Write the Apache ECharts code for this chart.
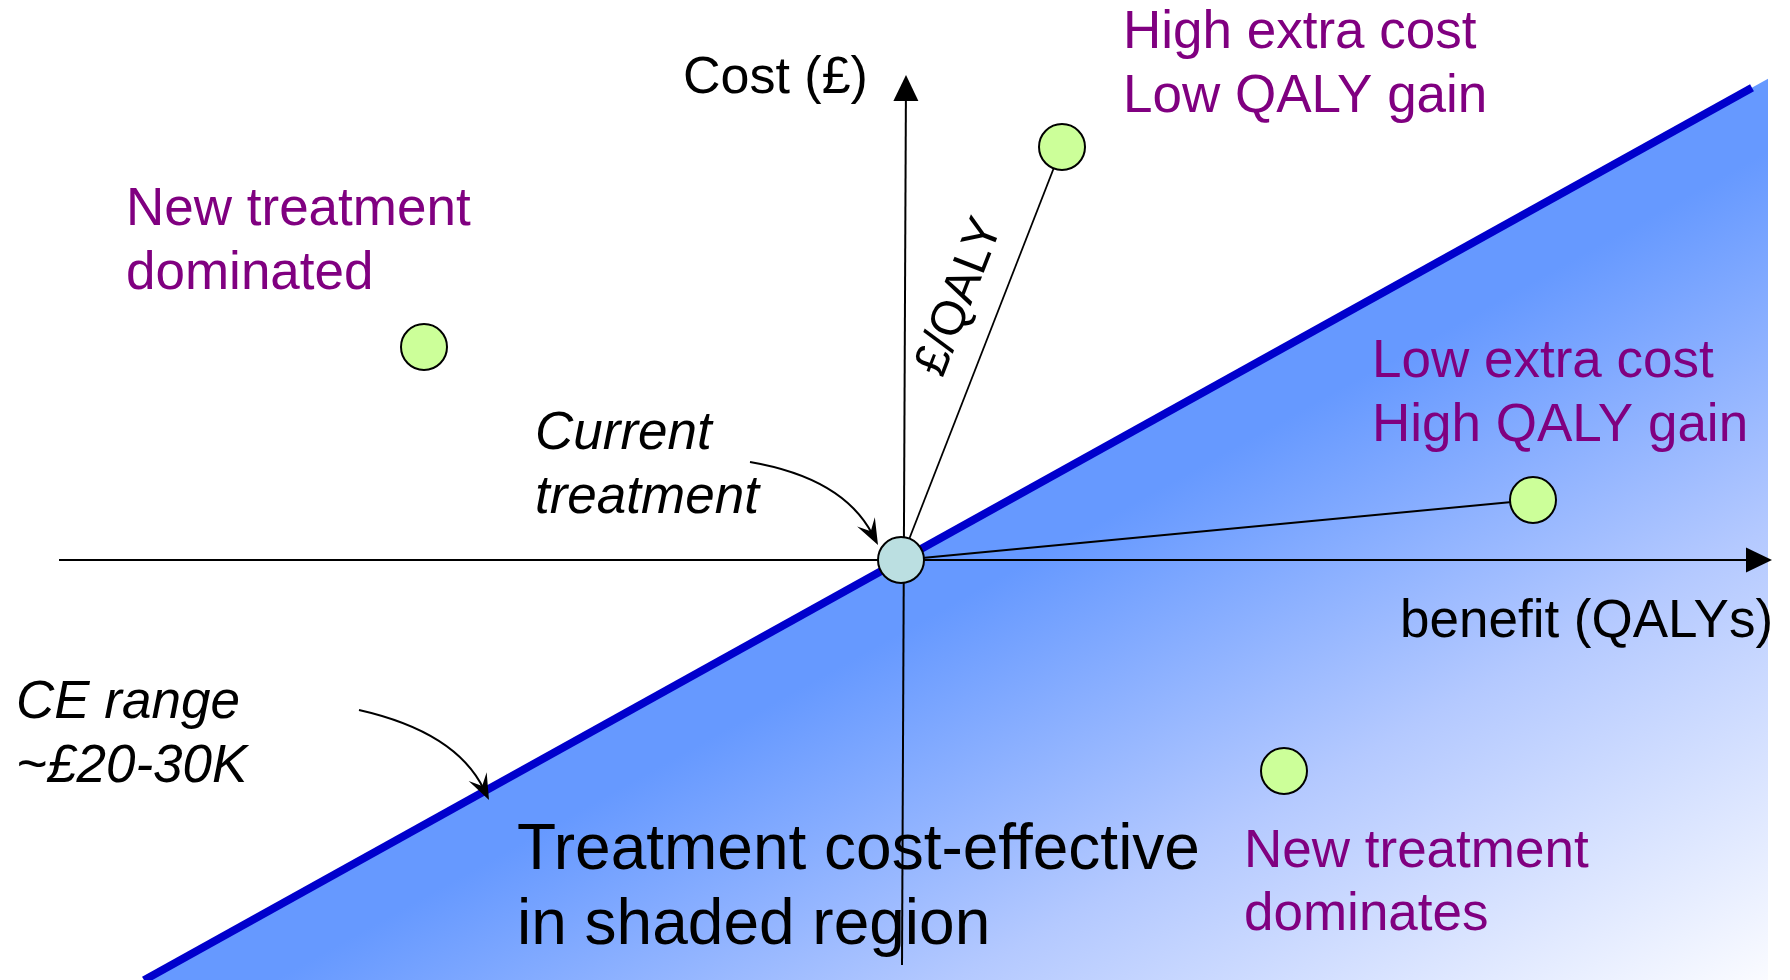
<!DOCTYPE html>
<html>
<head>
<meta charset="utf-8">
<title>Cost-effectiveness plane</title>
<script src="https://cdn.jsdelivr.net/npm/echarts@6/dist/echarts.min.js"></script>
<style>
  html, body { margin: 0; padding: 0; background: #ffffff; }
  #chart { width: 1790px; height: 980px; }
</style>
</head>
<body>
<div id="chart"></div>
<script>
// Incremental benefit (QALYs) and incremental cost (£) of each new treatment,
// measured relative to the current treatment at the origin.
const benefitQaly = [1.61, -4.77, 6.32, 3.83];
const extraCost   = [4.13,  2.13, 0.60, -2.11];
const currentTreatment = [0, 0];

// Willingness-to-pay threshold (cost per QALY) drawn as a line through the origin.
const ceThresholdSlope = 0.555;
const thresholdBenefitEnds = [-7.57, 8.51];
const shadedBenefitMax = 8.67;

// New treatments joined to the current one by a £/QALY ray.
const rayTargets = [0, 2];

// Axis extents (benefit, cost) of the two plane axes.
const benefitAxisEnds = [[-8.42, 0], [8.71, 0]];
const costAxisEnds    = [[0.01, -4.05], [0.05, 4.85]];

// Plot window.
const X_MIN = -9.01, X_MAX = 8.89;
const Y_MIN = -4.20, Y_MAX = 5.60;

// Curved pointer arrows: start, control, end (benefit, cost).
const pointerArrows = [
  [-1.51, 0.98, -0.58, 0.82, -0.23, 0.15],
  [-5.42, -1.50, -4.45, -1.72, -4.12, -2.40]
];

const FONT = '"Liberation Sans", Arial, Helvetica, sans-serif';
const PURPLE = '#800080';

const chart = echarts.init(document.getElementById('chart'), null, { renderer: 'canvas' });

const shadedVertices = [
  [Y_MIN / ceThresholdSlope, Y_MIN],
  [shadedBenefitMax, shadedBenefitMax * ceThresholdSlope],
  [shadedBenefitMax, Y_MIN]
];

function arrowHead(tip, from, len, half, notch) {
  const dx = tip[0] - from[0], dy = tip[1] - from[1];
  const d = Math.hypot(dx, dy) || 1;
  const ux = dx / d, uy = dy / d;
  const px = -uy, py = ux;
  const bx = tip[0] - ux * len, by = tip[1] - uy * len;
  const pts = [
    tip,
    [bx + px * half, by + py * half]
  ];
  if (notch) pts.push([tip[0] - ux * len * notch, tip[1] - uy * len * notch]);
  pts.push([bx - px * half, by - py * half]);
  return pts;
}

function txt(x, y, text, size, color, italic) {
  return {
    type: 'text', x: x, y: y, z: 100,
    style: {
      text: text, x: 0, y: 0,
      font: (italic ? 'italic ' : '') + size + 'px ' + FONT,
      fill: color, align: 'left', verticalAlign: 'middle'
    }
  };
}

const textEls = [
  txt(683, 79, 'Cost (£)', 52, '#000'),
  txt(1123, 33, 'High extra cost', 53, PURPLE),
  txt(1123, 97, 'Low QALY gain', 53, PURPLE),
  txt(126, 210, 'New treatment', 53, PURPLE),
  txt(126, 274, 'dominated', 53, PURPLE),
  txt(1372, 362, 'Low extra cost', 53, PURPLE),
  txt(1372, 426, 'High QALY gain', 53, PURPLE),
  txt(535, 434, 'Current', 53, '#000', true),
  txt(535, 498, 'treatment', 53, '#000', true),
  txt(1400, 622, 'benefit (QALYs)', 53, '#000'),
  txt(16, 703, 'CE range', 53, '#000', true),
  txt(16, 767, '~£20-30K', 53, '#000', true),
  txt(517, 851, 'Treatment cost-effective', 64, '#000'),
  txt(517, 926, 'in shaded region', 64, '#000'),
  txt(1244, 852, 'New treatment', 53, PURPLE),
  txt(1244, 915, 'dominates', 53, PURPLE),
  {
    type: 'text', x: 960, y: 297, rotation: 1.2, z: 100,
    style: {
      text: '£/QALY', x: 0, y: 0,
      font: '48px ' + FONT, fill: '#000',
      align: 'center', verticalAlign: 'middle'
    }
  }
];

const option = {
  animation: false,
  backgroundColor: '#ffffff',
  grid: { left: 0, right: 0, top: 0, bottom: 0, containLabel: false },
  xAxis: { type: 'value', min: X_MIN, max: X_MAX, show: false },
  yAxis: { type: 'value', min: Y_MIN, max: Y_MAX, show: false },
  graphic: { elements: textEls },
  series: [
    {
      // shaded cost-effective region below the threshold line,
      // fading from the threshold towards the far corner
      type: 'custom', z: 1, silent: true,
      data: [[0, 0]],
      renderItem: function (params, api) {
        const pts = shadedVertices.map(p => api.coord(p));
        const a = pts[0], b = pts[1], corner = pts[2];
        const lx = b[0] - a[0], ly = b[1] - a[1];
        const ll = lx * lx + ly * ly;
        const t = ((corner[0] - a[0]) * lx + (corner[1] - a[1]) * ly) / ll;
        const foot = [a[0] + lx * t, a[1] + ly * t];
        return {
          type: 'polygon',
          shape: { points: pts },
          style: {
            fill: new echarts.graphic.LinearGradient(foot[0], foot[1], corner[0], corner[1], [
              { offset: 0.08, color: '#6699ff' },
              { offset: 0.5, color: '#b4c9ff' },
              { offset: 1, color: '#fafbff' }
            ], true)
          }
        };
      }
    },
    {
      // plane axes with arrowheads
      type: 'custom', z: 3, silent: true,
      data: [benefitAxisEnds[0].concat(benefitAxisEnds[1]), costAxisEnds[0].concat(costAxisEnds[1])],
      encode: { x: [0, 2], y: [1, 3] },
      renderItem: function (params, api) {
        const a = api.coord([api.value(0), api.value(1)]);
        const b = api.coord([api.value(2), api.value(3)]);
        const head = arrowHead(b, a, 26, 12.5, 0);
        const d = Math.hypot(b[0] - a[0], b[1] - a[1]);
        const lineEnd = [b[0] - (b[0] - a[0]) / d * 20, b[1] - (b[1] - a[1]) / d * 20];
        return {
          type: 'group',
          children: [
            { type: 'line', shape: { x1: a[0], y1: a[1], x2: lineEnd[0], y2: lineEnd[1] },
              style: { stroke: '#000', lineWidth: 2 } },
            { type: 'polygon', shape: { points: head }, style: { fill: '#000' } }
          ]
        };
      }
    },
    {
      // £/QALY rays from the current treatment
      type: 'custom', z: 4, silent: true,
      data: rayTargets.map(i => [currentTreatment[0], currentTreatment[1], benefitQaly[i], extraCost[i]]),
      encode: { x: [0, 2], y: [1, 3] },
      renderItem: function (params, api) {
        const a = api.coord([api.value(0), api.value(1)]);
        const b = api.coord([api.value(2), api.value(3)]);
        return { type: 'line', shape: { x1: a[0], y1: a[1], x2: b[0], y2: b[1] },
                 style: { stroke: '#000', lineWidth: 1.8 } };
      }
    },
    {
      // cost-effectiveness threshold
      type: 'line', z: 5, silent: true,
      data: thresholdBenefitEnds.map(x => [x, x * ceThresholdSlope]),
      showSymbol: false, symbol: 'none',
      lineStyle: { color: '#0000cc', width: 8, cap: 'butt' }
    },
    {
      // curved pointer arrows for annotations
      type: 'custom', z: 6, silent: true,
      data: pointerArrows,
      encode: { x: [0, 2, 4], y: [1, 3, 5] },
      renderItem: function (params, api) {
        const s = api.coord([api.value(0), api.value(1)]);
        const c = api.coord([api.value(2), api.value(3)]);
        const e = api.coord([api.value(4), api.value(5)]);
        const head = arrowHead(e, c, 26, 10, 0.6);
        const d = Math.hypot(e[0] - c[0], e[1] - c[1]);
        const stop = [e[0] - (e[0] - c[0]) / d * 12, e[1] - (e[1] - c[1]) / d * 12];
        return {
          type: 'group',
          children: [
            { type: 'bezierCurve',
              shape: { x1: s[0], y1: s[1], cpx1: c[0], cpy1: c[1], x2: stop[0], y2: stop[1] },
              style: { stroke: '#000', lineWidth: 2, fill: null } },
            { type: 'polygon', shape: { points: head }, style: { fill: '#000' } }
          ]
        };
      }
    },
    {
      // new treatments
      type: 'scatter', z: 7, silent: true,
      data: benefitQaly.map((x, i) => [x, extraCost[i]]),
      symbol: 'circle', symbolSize: 46,
      itemStyle: { color: '#ccff99', borderColor: '#000', borderWidth: 2, opacity: 1 }
    },
    {
      // current treatment
      type: 'scatter', z: 8, silent: true,
      data: [currentTreatment],
      symbol: 'circle', symbolSize: 46,
      itemStyle: { color: '#bbdfe1', borderColor: '#000', borderWidth: 2, opacity: 1 }
    }
  ]
};

chart.setOption(option);
</script>
</body>
</html>
